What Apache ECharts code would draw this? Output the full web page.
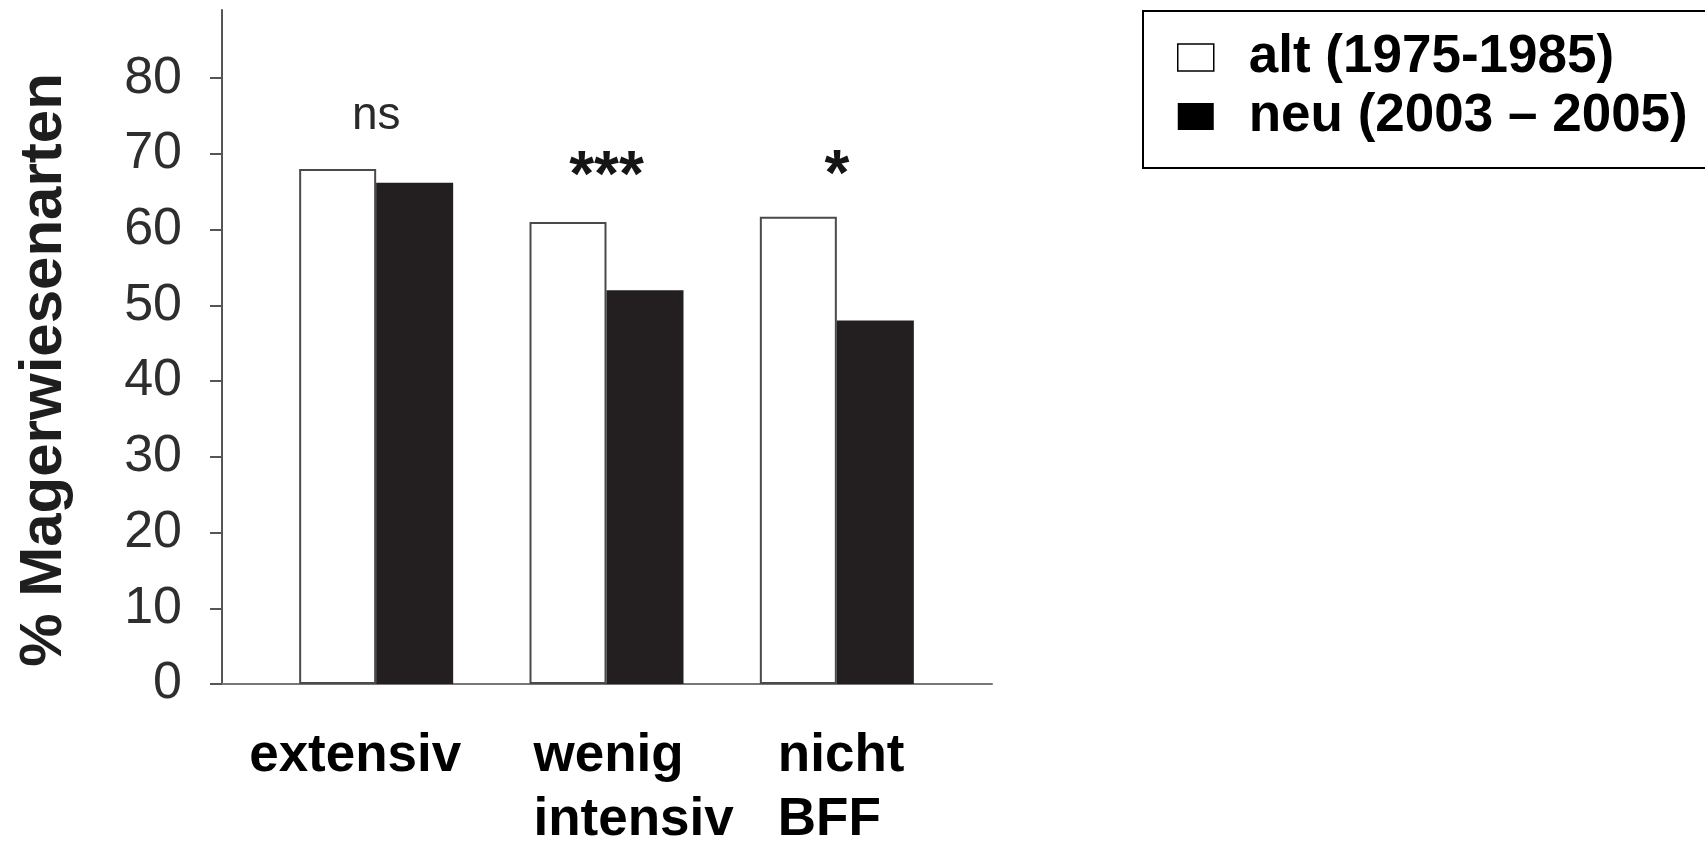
<!DOCTYPE html>
<html>
<head>
<meta charset="utf-8">
<script src="https://cdn.jsdelivr.net/npm/echarts@6/dist/echarts.min.js"></script>
<style>
  html, body { margin: 0; padding: 0; background: #fff; }
  #chart { width: 1705px; height: 842px; }
</style>
</head>
<body>
<div id="chart"></div>
<script>
// Anteil der Magerwiesenarten je Bewirtschaftungstyp
const categories = ['extensiv', 'wenig\nintensiv', 'nicht\nBFF'];
const seriesNames = ['alt (1975-1985)', 'neu (2003 – 2005)'];
const altValues = [68, 61, 61.7];
const neuValues = [66.2, 52, 48];
const significance = ['ns', '***', '*'];
const yTicks = [0, 10, 20, 30, 40, 50, 60, 70, 80];
const yTitle = '% Magerwiesenarten';

const FONT = 'Liberation Sans, Arial, sans-serif';
const LABEL_FONT_SIZE = 53;
const Y_MAX = 89;

const chart = echarts.init(document.getElementById('chart'), null, { renderer: 'canvas' });

// Category labels: every line is left aligned, and the block's left edge
// sits at a fixed shift from the band centre.
const labelShift = [-127, -73, -59];
const measureCtx = document.createElement('canvas').getContext('2d');
measureCtx.font = 'bold ' + LABEL_FONT_SIZE + 'px ' + FONT;
const textW = s => measureCtx.measureText(s).width;

const rich = {
  t: { fontFamily: FONT, fontSize: LABEL_FONT_SIZE, fontWeight: 'bold', color: '#000', lineHeight: 64 }
};
const labelLines = categories.map((cat, idx) => {
  const lines = cat.split('\n');
  const maxW = Math.max(...lines.map(textW));
  const d = 2 * labelShift[idx] + maxW;   // lead - tail
  const lead = Math.max(d, 0);
  const tail = Math.max(-d, 0);
  return lines.map((line, k) => {
    const fill = tail + (maxW - textW(line));
    const leadKey = 'l' + idx + '_' + k;
    const tailKey = 'r' + idx + '_' + k;
    rich[leadKey] = { width: Math.max(lead, 0.01), lineHeight: 64, fontSize: 1 };
    rich[tailKey] = { width: Math.max(fill, 0.01), lineHeight: 64, fontSize: 1 };
    return `{${leadKey}| }{t|${line}}{${tailKey}| }`;
  }).join('\n');
});

// height above the taller bar of each group for the test marks
const sigDistance = [30, 12, 7];

const sigData = categories.map((c, i) => {
  const isNs = significance[i] === 'ns';
  return {
    value: [i, Math.max(altValues[i], neuValues[i])],
    label: {
      show: true,
      position: 'top',
      distance: sigDistance[i],
      formatter: significance[i],
      fontFamily: FONT,
      fontSize: isNs ? 46 : 64,
      fontWeight: isNs ? 'normal' : 'bold',
      color: isNs ? '#2a2a2a' : '#151515'
    }
  };
});

const option = {
  backgroundColor: '#fff',
  animation: false,
  grid: [
    // bars
    { left: 261, right: 753, top: 10, bottom: 158, outerBoundsMode: 'none' },
    // axis frame
    { left: 222, right: 713, top: 10, bottom: 158, outerBoundsMode: 'none' }
  ],
  xAxis: [
    {
      type: 'category',
      gridIndex: 0,
      data: categories,
      axisLine: { show: false },
      axisTick: { show: false },
      axisLabel: {
        interval: 0,
        margin: 40,
        formatter: (value, idx) => labelLines[idx],
        rich: rich
      }
    },
    {
      type: 'value',
      gridIndex: 1,
      min: 0,
      max: 1,
      axisLine: { show: true, lineStyle: { color: '#777', width: 2 } },
      axisTick: { show: false },
      axisLabel: { show: false },
      splitLine: { show: false }
    }
  ],
  yAxis: [
    { type: 'value', gridIndex: 0, min: 0, max: Y_MAX, show: false, splitLine: { show: false } },
    {
      type: 'value',
      gridIndex: 1,
      min: 0,
      max: Y_MAX,
      interval: 10,
      axisLine: { show: true, lineStyle: { color: '#555', width: 2 } },
      axisTick: { show: true, length: 12, lineStyle: { color: '#555', width: 2 }, customValues: yTicks },
      axisLabel: {
        margin: 40,
        fontFamily: FONT,
        fontSize: 52,
        color: '#2e2e2e',
        customValues: yTicks
      },
      splitLine: { show: false }
    }
  ],
  legend: {
    left: 1143,
    top: 11,
    orient: 'vertical',
    padding: [20, 60, 25, 34],
    itemGap: 6,
    itemWidth: 36,
    itemHeight: 27,
    borderColor: '#000',
    borderWidth: 2,
    borderRadius: 0,
    selectedMode: false,
    textStyle: {
      fontFamily: FONT,
      fontSize: 53,
      fontWeight: 'bold',
      color: '#000',
      padding: [0, 0, 0, 30]
    },
    data: [
      { name: seriesNames[0], icon: 'rect', itemStyle: { color: '#fff', borderColor: '#000', borderWidth: 1.5 } },
      { name: seriesNames[1], icon: 'rect', itemStyle: { color: '#000', borderWidth: 0 } }
    ]
  },
  graphic: [
    {
      type: 'text',
      x: 44,
      y: 370,
      rotation: Math.PI / 2,
      style: {
        text: yTitle,
        fontFamily: FONT,
        fontSize: 60,
        fontWeight: 'bold',
        fill: '#1e1e1e',
        align: 'center',
        verticalAlign: 'middle'
      }
    }
  ],
  series: [
    {
      name: seriesNames[0],
      type: 'bar',
      xAxisIndex: 0,
      yAxisIndex: 0,
      barWidth: 77,
      barGap: '0%',
      data: altValues,
      itemStyle: { color: '#fff', borderColor: '#4a4a4a', borderWidth: 2 }
    },
    {
      name: seriesNames[1],
      type: 'bar',
      xAxisIndex: 0,
      yAxisIndex: 0,
      barWidth: 77,
      barGap: '0%',
      data: neuValues,
      itemStyle: { color: '#231f20' }
    },
    {
      name: 'signifikanz',
      type: 'scatter',
      xAxisIndex: 0,
      yAxisIndex: 0,
      symbolSize: 0,
      silent: true,
      itemStyle: { opacity: 1 },
      data: sigData
    }
  ]
};

chart.setOption(option);
</script>
</body>
</html>
